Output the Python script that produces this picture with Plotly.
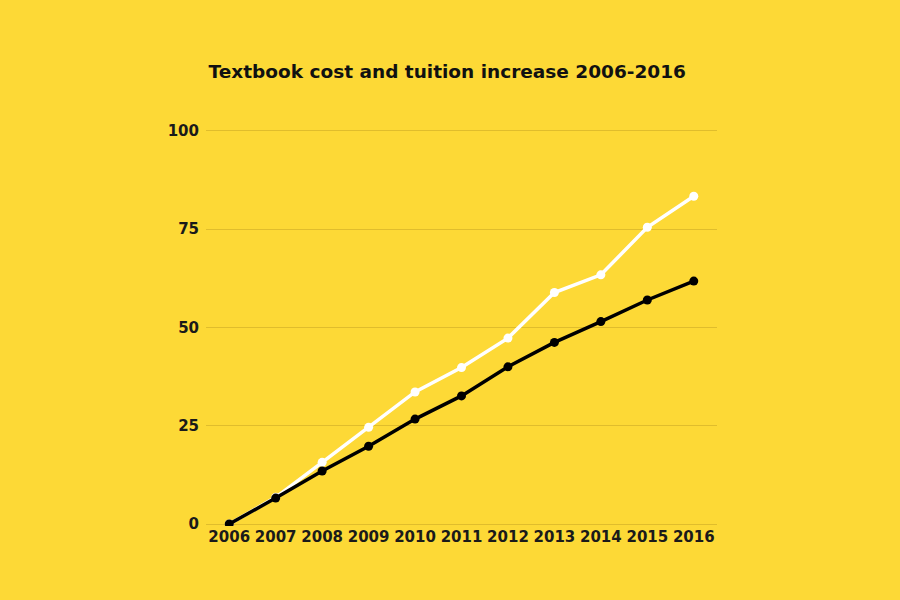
import plotly.graph_objects as go

years = list(range(2006, 2017))
tuition = [0, 6.8, 15.7, 24.6, 33.6, 39.8, 47.3, 58.9, 63.4, 75.5, 83.4]
textbook = [0, 6.6, 13.5, 19.8, 26.7, 32.6, 40.0, 46.2, 51.5, 57.0, 61.8]
y_ticks = [0, 25, 50, 75, 100]

bg = "#FDD936"
fig = go.Figure()
fig.add_trace(go.Scatter(x=years, y=tuition, mode="lines+markers",
                         line=dict(color="white", width=3.5),
                         marker=dict(color="white", size=9), showlegend=False))
fig.add_trace(go.Scatter(x=years, y=textbook, mode="lines+markers",
                         line=dict(color="black", width=3.5),
                         marker=dict(color="black", size=9), showlegend=False))

fig.update_layout(
    width=900, height=600,
    paper_bgcolor=bg, plot_bgcolor=bg,
    margin=dict(l=206, r=183, t=129, b=74),
    title=dict(text="<b>Textbook cost and tuition increase 2006-2016</b>",
               x=0.497, xanchor="center", y=1 - 72 / 600, yanchor="middle",
               font=dict(family="DejaVu Sans", size=18.5, color="#111111")),
    xaxis=dict(range=[2005.5, 2016.5], tickvals=years, ticktext=[str(y) for y in years],
               showgrid=False, zeroline=False, showline=False,
               tickfont=dict(family="DejaVu Sans", size=15, color="#1a1a1a", weight="bold"),
               ticks="", ticklabelstandoff=0),
    yaxis=dict(range=[-0.5, 100.5], tickvals=y_ticks, showgrid=True, gridcolor="#E0BD2C",
               gridwidth=1, zeroline=False, showline=False,
               tickfont=dict(family="DejaVu Sans", size=15, color="#1a1a1a", weight="bold"),
               ticks="", ticklabelstandoff=6),
)
fig.write_html("out.html")
